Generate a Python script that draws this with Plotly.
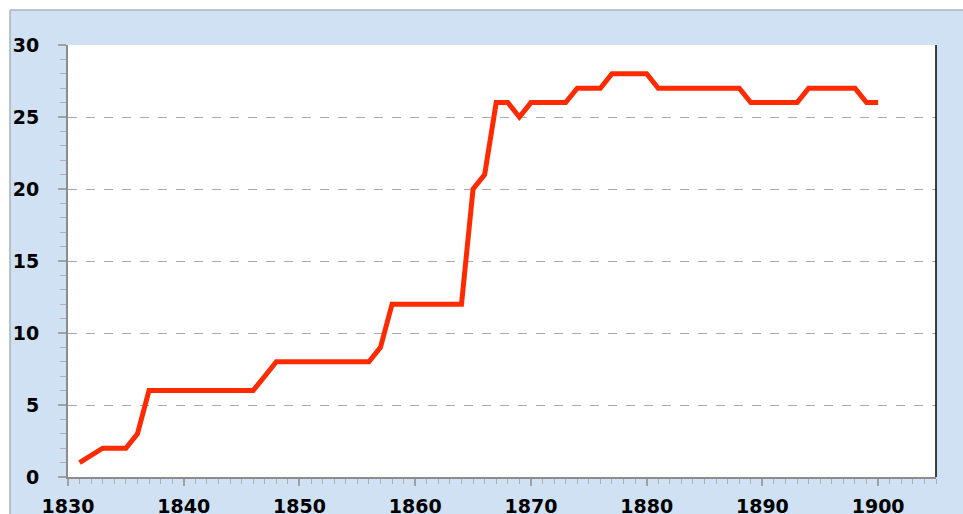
import plotly.graph_objects as go

years = list(range(1831, 1901))
values = [1, 1.5, 2, 2, 2, 3, 6, 6, 6, 6,
          6, 6, 6, 6, 6, 6, 7, 8, 8, 8,
          8, 8, 8, 8, 8, 8, 9, 12, 12, 12,
          12, 12, 12, 12, 20, 21, 26, 26, 25, 26,
          26, 26, 26, 27, 27, 27, 28, 28, 28, 28,
          27, 27, 27, 27, 27, 27, 27, 27, 26, 26,
          26, 26, 26, 27, 27, 27, 27, 27, 26, 26]
x_ticks = [1830, 1840, 1850, 1860, 1870, 1880, 1890, 1900]
y_ticks = [0, 5, 10, 15, 20, 25, 30]

W, H = 963, 514
L, R, T, B = 68, 27, 45, 37
pw, ph = W - L - R, H - T - B

def px(xp):
    return (xp - L) / pw

def py(yp):
    return (H - B - yp) / ph

BG = "#D0E1F3"
font = dict(family="DejaVu Sans", size=19, color="#000000")

fig = go.Figure()
fig.add_trace(go.Scatter(
    x=years, y=values, mode="lines",
    line=dict(color="#FF2A00", width=5),
    hoverinfo="skip", showlegend=False,
))

fig.update_layout(
    width=W, height=H,
    margin=dict(l=L, r=R, t=T, b=B, pad=0, autoexpand=False),
    paper_bgcolor=BG, plot_bgcolor="#FFFFFF",
    showlegend=False,
    xaxis=dict(
        range=[1830, 1905], tickvals=x_ticks, ticktext=[f"<b>{v}</b>" for v in x_ticks],
        showgrid=False, zeroline=False, automargin=False,
        showline=True, linecolor="#8C8C8C", linewidth=2,
        ticks="outside", ticklen=7, tickwidth=1.5, tickcolor="#A0A0A0",
        minor=dict(dtick=1, tick0=1830, ticks="outside", ticklen=5, tickcolor="#B0B0B0", tickwidth=1, showgrid=False),
        tickfont=font, ticklabelstandoff=4,
        fixedrange=True,
    ),
    yaxis=dict(
        range=[0, 30], tickvals=y_ticks, ticktext=[f"<b>{v}</b>" for v in y_ticks],
        showgrid=True, gridcolor="#A8A8A8", griddash="dash", gridwidth=1,
        zeroline=False, automargin=False,
        showline=True, linecolor="#8C8C8C", linewidth=2,
        ticks="outside", ticklen=8, tickwidth=1.5, tickcolor="#A0A0A0",
        minor=dict(dtick=1, tick0=0, ticks="outside", ticklen=6, tickcolor="#B0B0B0", tickwidth=1, showgrid=False),
        tickfont=font, ticklabelstandoff=15,
        fixedrange=True,
    ),
    shapes=[
        # white strips at top and left outside the chart frame
        dict(type="rect", xref="paper", yref="paper", x0=px(-5), x1=px(W + 5), y0=py(10), y1=py(-5),
             fillcolor="#FFFFFF", line=dict(width=0), layer="above"),
        dict(type="rect", xref="paper", yref="paper", x0=px(-5), x1=px(10), y0=py(H + 5), y1=py(-5),
             fillcolor="#FFFFFF", line=dict(width=0), layer="above"),
        # frame border lines
        dict(type="line", xref="paper", yref="paper", x0=px(10), x1=px(W + 5), y0=py(10), y1=py(10),
             line=dict(color="#A9B3BD", width=1.5), layer="above"),
        dict(type="line", xref="paper", yref="paper", x0=px(10), x1=px(10), y0=py(10), y1=py(H + 5),
             line=dict(color="#A9B3BD", width=1.5), layer="above"),
        # right border of plot area
        dict(type="line", xref="paper", yref="paper", x0=1, x1=1, y0=0, y1=1,
             line=dict(color="#000000", width=1.5), layer="above"),
    ],
)

fig.write_html(
    "out.html",
    config={"displayModeBar": False},
    post_script="document.body.style.margin='0';document.body.style.overflow='hidden';",
)
